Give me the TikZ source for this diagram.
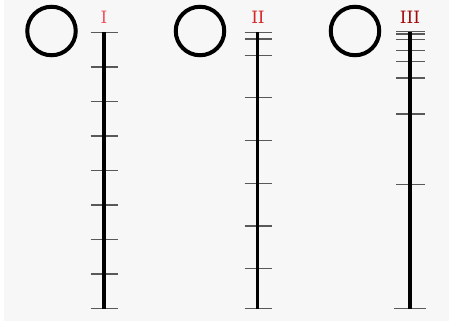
\documentclass[tikz,border=0pt]{standalone}
\usepackage{fontspec}
\usetikzlibrary{positioning}
\newfontfamily\numfont{DejaVu Serif}
\definecolor{redI}{RGB}{240,85,95}
\definecolor{redII}{RGB}{215,40,40}
\definecolor{redIII}{RGB}{165,10,10}

\begin{document}
\begin{tikzpicture}[x=1pt,y=-1pt]
        \tikzset{ring/.style = {shape=circle,draw,line width=4pt,minimum size=48.5pt,inner sep=0pt},
                 bar/.style = {line width=3.2pt,black},
                 tick/.style = {line width=1.5pt,black!65},
                 numeral/.style = {font=\numfont\fontsize{17}{17}\selectfont}};
        \fill[black!3] (4,0) rectangle (449,321);
        \useasboundingbox (0,0) rectangle (451,322);
        % scale I : even steps
        \node[ring] (ringI) at (51.5,31) {};
        \node[numeral,text=redI] (numI) at (104,17.5) {I};
        \foreach \y in {32.5,67,101.5,136,170.5,205,239.5,274,308.5}
            \draw[tick] (90.5,\y) -- (117.5,\y);
        \coordinate (topI) at (104,32);
        \coordinate (botI) at (104,309);
        \draw[bar] (topI) -- (botI);
        % scale II
        \node[ring] (ringII) at (200,31) {};
        \node[numeral,text=redII] (numII) at (258,17.5) {II};
        \foreach \y in {32.3,39,55.3,97.7,140.7,183.3,226,268.7,308.3}
            \draw[tick] (244.5,\y) -- (271.5,\y);
        \coordinate (topII) at (257.5,32);
        \coordinate (botII) at (257.5,309);
        \draw[bar] (topII) -- (botII);
        % scale III
        \node[ring] (ringIII) at (355,31) {};
        \node[numeral,text=redIII] (numIII) at (410,17.5) {III};
        \foreach \y in {31.7,33.9,39.3,50.7,61.3,78,114,184.7}
            \draw[tick] (396,\y) -- (424.5,\y);
        \draw[tick] (394,308.3) -- (426,308.3);
        \coordinate (topIII) at (410,32);
        \coordinate (botIII) at (410,309);
        \draw[bar] (topIII) -- (botIII);
\end{tikzpicture}
\end{document}
